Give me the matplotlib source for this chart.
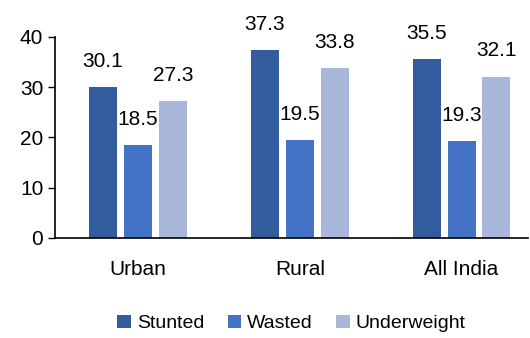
import matplotlib
matplotlib.use("Agg")
import matplotlib.pyplot as plt
import numpy as np

plt.rcParams['font.family'] = ['Liberation Sans Narrow', 'Liberation Sans', 'DejaVu Sans']

regions = ["Urban", "Rural", "All India"]
stunted = [30.1, 37.3, 35.5]
wasted = [18.5, 19.5, 19.3]
underweight = [27.3, 33.8, 32.1]

series = [("Stunted", stunted, "#335C9E"),
          ("Wasted", wasted, "#4472C4"),
          ("Underweight", underweight, "#A9B7DB")]

fig = plt.figure(figsize=(5.3, 3.38), dpi=100)
ax = fig.add_axes([0.104, 0.296, 0.892, 0.595])

x = np.arange(len(regions))
w = 0.173
step = 0.216
for i, (name, vals, col) in enumerate(series):
    pos = x + (i - 1) * step
    bars = ax.bar(pos, vals, width=w, color=col, label=name)
    for b, v in zip(bars, vals):
        ax.text(b.get_x() + b.get_width() / 2, v + 3.2, f"{v:.1f}",
                ha="center", va="bottom", fontsize=15)

ax.set_xlim(-0.512, 2.41)
ax.set_ylim(0, 40)
ax.set_yticks([0, 10, 20, 30, 40])
ax.set_xticks(x)
ax.set_xticklabels(regions)
ax.tick_params(axis="y", labelsize=15, length=5, width=1, direction="out")
ax.tick_params(axis="x", labelsize=15, length=0, pad=16)
ax.spines["top"].set_visible(False)
ax.spines["right"].set_visible(False)
for s in ("left", "bottom"):
    ax.spines[s].set_linewidth(1.2)

fig.legend(loc="lower center", bbox_to_anchor=(0.55, -0.035), ncol=3,
           frameon=False, fontsize=14, handlelength=0.7, handleheight=0.7,
           handletextpad=0.3, columnspacing=1.2)

fig.savefig("out.png", dpi=100)
